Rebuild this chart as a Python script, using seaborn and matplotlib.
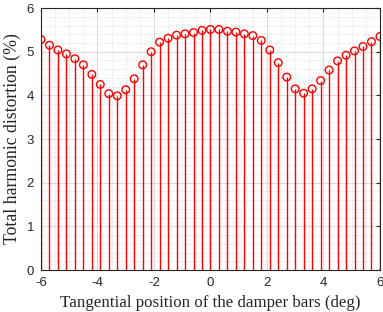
import numpy as np
import pandas as pd
import matplotlib
matplotlib.use("Agg")
import matplotlib.pyplot as plt
import seaborn as sns
from matplotlib.ticker import MultipleLocator

position = [-6.0, -5.7, -5.4, -5.1, -4.8, -4.5, -4.2, -3.9, -3.6, -3.3, -3.0,
            -2.7, -2.4, -2.1, -1.8, -1.5, -1.2, -0.9, -0.6, -0.3, 0.0,
            0.3, 0.6, 0.9, 1.2, 1.5, 1.8, 2.1, 2.4, 2.7, 3.0,
            3.3, 3.6, 3.9, 4.2, 4.5, 4.8, 5.1, 5.4, 5.7, 6.0]
thd = [5.28, 5.15, 5.04, 4.95, 4.84, 4.70, 4.48, 4.25, 4.04, 3.99, 4.13,
       4.38, 4.70, 5.00, 5.22, 5.31, 5.38, 5.41, 5.44, 5.49, 5.51,
       5.51, 5.47, 5.45, 5.41, 5.37, 5.26, 5.04, 4.75, 4.42, 4.15,
       4.05, 4.15, 4.34, 4.58, 4.79, 4.92, 5.02, 5.12, 5.23, 5.35]
xticks = [-6, -4, -2, 0, 2, 4, 6]
yticks = [0, 1, 2, 3, 4, 5, 6]

df = pd.DataFrame({"pos": position, "thd": thd})

sns.set_theme(style="white")
plt.rcParams['font.family'] = ['Liberation Sans', 'DejaVu Sans']

fig = plt.figure(figsize=(3.83, 3.12), dpi=100)
ax = fig.add_axes([0.107, 0.1346, 0.885, 0.8395])

red = "#ff0000"
ax.vlines(df["pos"], 0, df["thd"], color=red, linewidth=1.0, zorder=3)
sns.scatterplot(data=df, x="pos", y="thd", ax=ax, marker="o", s=30,
                facecolors="none", edgecolor=red, linewidth=1.0, zorder=4,
                legend=False)

ax.set_xlim(-6, 6)
ax.set_ylim(0, 6)
ax.set_xticks(xticks)
ax.set_yticks(yticks)
ax.set_xticklabels([str(t) for t in xticks])
ax.set_yticklabels([str(t) for t in yticks])
ax.xaxis.set_minor_locator(MultipleLocator(0.5))
ax.yaxis.set_minor_locator(MultipleLocator(0.2))
ax.grid(True, which="major", color="#dcdcdc", linewidth=0.8, linestyle="-")
ax.grid(True, which="minor", color="#d0d0d0", linewidth=0.6, linestyle=(0, (1, 2)))
ax.set_axisbelow(True)

for s in ax.spines.values():
    s.set_color("#262626")
    s.set_linewidth(0.8)
    s.set_zorder(5)
ax.tick_params(which="major", direction="in", length=3, width=0.8, color="#262626",
               top=True, right=True, labelsize=9.5, labelcolor="#262626", pad=5)
ax.tick_params(which="minor", length=0, top=True, right=True)

ax.set_xlabel("Tangential position of the damper bars (deg)",
              fontfamily="Liberation Serif", fontsize=12.2, color="#262626", labelpad=4)
ax.set_ylabel("Total harmonic distortion (%)",
              fontfamily="Liberation Serif", fontsize=12.8, color="#262626", labelpad=4)

fig.savefig("out.png", dpi=100)
